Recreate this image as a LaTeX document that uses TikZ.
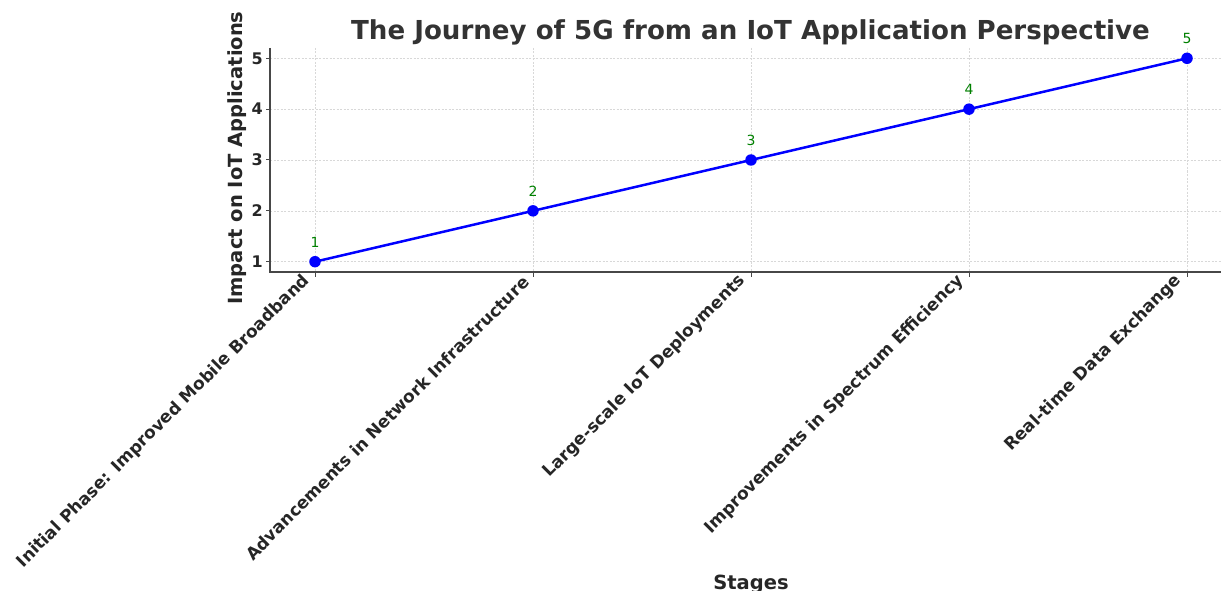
\documentclass[tikz,border=0pt]{standalone}
\usepackage{fontspec}
\setmainfont{DejaVu Sans}
\definecolor{txt}{HTML}{262626}
\definecolor{ttl}{HTML}{333333}
\definecolor{ann}{HTML}{008000}
\definecolor{gridc}{HTML}{D8D8D8}
\tikzset{
  gridline/.style={draw=gridc, line width=0.7pt, dash pattern=on 2pt off 1.5pt},
  spine/.style={draw=txt!85, line width=1.3pt},
  tickmark/.style={draw=txt!85, line width=1pt},
  ytick/.style={anchor=east, inner sep=0pt, text=txt, font=\fontsize{16}{19}\selectfont\bfseries},
  xtick/.style={anchor=south east, rotate=45, inner sep=0pt, text=txt, font=\fontsize{17}{20}\selectfont\bfseries},
  axlabel/.style={inner sep=0pt, text=txt, font=\fontsize{19.5}{23}\selectfont\bfseries},
  titlestyle/.style={inner sep=0pt, text=ttl, font=\fontsize{26.1}{31}\selectfont\bfseries},
  annot/.style={inner sep=0pt, text=ann, font=\fontsize{14}{17}\selectfont},
  marker/.style={circle, fill=blue, inner sep=0pt, minimum size=11.5pt},
  dataline/.style={draw=blue, line width=2.5pt, line join=round}
}
\begin{document}
\begin{tikzpicture}[x=1pt,y=-1pt]
\useasboundingbox (0,0) rectangle (1221,591);
% grid
\foreach \gx in {315,533,751,969,1187} \draw[gridline] (\gx,48) -- (\gx,272);
\foreach \gy in {261.7,210.85,160,109.15,58.3} \draw[gridline] (270,\gy) -- (1221,\gy);
% spines
\coordinate (ytop) at (270,48);
\coordinate (origin) at (270,272);
\coordinate (xend) at (1221,272);
\draw[spine] (ytop) -- (origin) -- (xend);
% y ticks
\foreach \v/\gy in {1/261.7,2/210.85,3/160,4/109.15,5/58.3}{
  \draw[tickmark] (270,\gy) -- (265.5,\gy);
  \node[ytick] (yt\v) at (263,\gy) {\v};
}
% x ticks
\foreach \gx in {315,533,751,969,1187} \draw[tickmark] (\gx,272) -- (\gx,276.5);
\node[xtick] (xl1) at (313,284) {Initial Phase: Improved Mobile Broadband};
\node[xtick] (xl2) at (531,284) {Advancements in Network Infrastructure};
\node[xtick] (xl3) at (749,284) {Large-scale IoT Deployments};
\node[xtick] (xl4) at (967,284) {Improvements in Spectrum Efficiency};
\node[xtick] (xl5) at (1185,284) {Real-time Data Exchange};
% data
\coordinate (c1) at (315,261.7);
\coordinate (c2) at (533,210.85);
\coordinate (c3) at (751,160);
\coordinate (c4) at (969,109.15);
\coordinate (c5) at (1187,58.3);
\draw[dataline] (c1) -- (c2) -- (c3) -- (c4) -- (c5);
\foreach \i in {1,...,5}{
  \node[marker] (m\i) at (c\i) {};
  \node[annot, anchor=base] (a\i) at ([yshift=14.5pt]c\i) {\i};
}
% labels
\node[titlestyle, anchor=base] (title) at (750.5,40) {The Journey of 5G from an IoT Application Perspective};
\node[axlabel, rotate=90] (ylab) at (237,158) {Impact on IoT Applications};
\node[axlabel, anchor=base] (xlab) at (751,589) {Stages};
\end{tikzpicture}
\end{document}
